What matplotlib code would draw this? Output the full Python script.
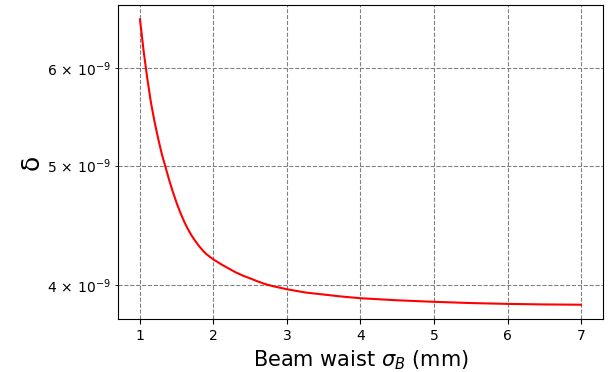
import numpy as np
import matplotlib
matplotlib.use("Agg")
import matplotlib.pyplot as plt
from matplotlib.ticker import FixedLocator, FuncFormatter, NullFormatter

# ----- values (beam waist in mm, delta) -----
sigma_b = [1.0, 1.05, 1.1, 1.15, 1.2, 1.25, 1.3, 1.35, 1.4, 1.45, 1.5, 1.55,
           1.6, 1.65, 1.7, 1.75, 1.8, 1.85, 1.9, 1.95, 2.0, 2.1, 2.2, 2.3,
           2.4, 2.5, 2.6, 2.7, 2.8, 3.0, 3.25, 3.5, 3.75, 4.0, 4.5, 5.0,
           5.5, 6.0, 6.5, 7.0]
delta_e9 = [6.57, 6.19, 5.88, 5.62, 5.42, 5.25, 5.10, 4.98, 4.86, 4.755, 4.66, 4.578,
            4.505, 4.443, 4.39, 4.345, 4.305, 4.27, 4.24, 4.217, 4.196, 4.16, 4.128, 4.097,
            4.071, 4.05, 4.028, 4.008, 3.993, 3.969, 3.945, 3.93, 3.915, 3.903, 3.888, 3.877,
            3.868, 3.862, 3.858, 3.856]
ytick_vals = [4, 5, 6]

delta = np.array(delta_e9) * 1e-9

fig = plt.figure(figsize=(6.11, 3.72), dpi=100)
ax = fig.add_axes([0.193, 0.1425, 0.794, 0.844])

ax.plot(sigma_b, delta, color="red", linewidth=1.5)
ax.set_yscale("log")

# minor log ticks labelled like "6 x 10^-9"
ax.yaxis.set_minor_locator(FixedLocator([v * 1e-9 for v in ytick_vals]))
ax.yaxis.set_minor_formatter(FuncFormatter(
    lambda v, pos: r"$\mathdefault{%d\,\times\,10^{-9}}$" % round(v * 1e9)))
ax.yaxis.set_major_formatter(NullFormatter())

ax.grid(True, which="both", linestyle="--", color="gray", linewidth=0.8)
ax.set_xlabel(r"Beam waist $\sigma_B$ (mm)", fontsize=15)
ax.set_ylabel("δ", fontsize=18, labelpad=2)
ax.tick_params(labelsize=10)

fig.savefig("out.png", dpi=100)
